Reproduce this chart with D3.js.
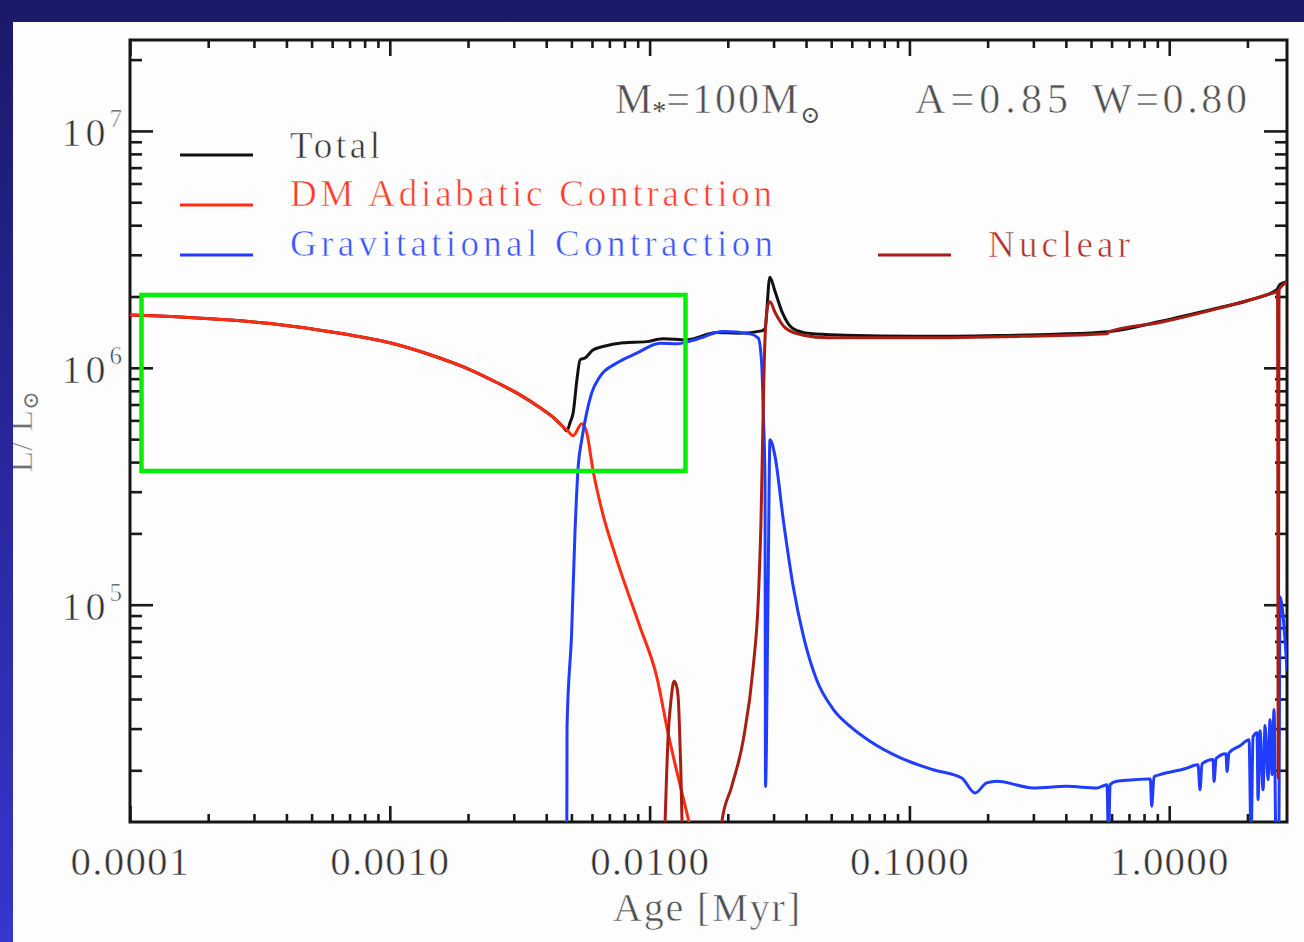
<!DOCTYPE html>
<html>
<head>
<meta charset="utf-8">
<script src="https://cdn.jsdelivr.net/npm/d3@7"></script>
<style>
  html, body { margin: 0; padding: 0; background: #1c1a6e; }
  svg { display: block; }
  svg text { stroke: #fdfdfd; stroke-width: 0.6px; paint-order: normal; }
  svg text tspan.sym { stroke: none; }
</style>
</head>
<body>
<script>
// ages in Myr, luminosities in L_sun
var totalAge = [1.00e-4, 1.56e-4, 2.43e-4, 3.78e-4, 5.89e-4, 1.00e-3, 1.43e-3, 2.04e-3, 2.59e-3, 3.17e-3,
  3.79e-3, 4.32e-3, 4.64e-3, 4.80e-3, 4.95e-3, 5.08e-3, 5.25e-3, 5.40e-3, 5.64e-3, 6.05e-3,
  6.62e-3, 7.90e-3, 9.75e-3, 1.126e-2, 1.39e-2, 1.813e-2, 2.229e-2, 2.699e-2, 2.78e-2, 2.902e-2,
  3.04e-2, 3.24e-2, 3.55e-2, 4.15e-2, 5.67e-2, 0.1055, 0.1965, 0.366, 0.583, 0.93,
  1.483, 2.025, 2.595, 2.67, 2.841];
var totalL = [1.67e6, 1.64e6, 1.59e6, 1.52e6, 1.42e6, 1.275e6, 1.135e6, 9.81e5, 8.65e5, 7.69e5,
  6.78e5, 6.09e5, 5.64e5, 5.42e5, 5.9e5, 6.46e5, 8.9e5, 1.08e6, 1.10e6, 1.19e6,
  1.23e6, 1.275e6, 1.29e6, 1.326e6, 1.313e6, 1.409e6, 1.40e6, 1.432e6, 1.461e6, 2.41e6,
  2.10e6, 1.713e6, 1.469e6, 1.395e6, 1.373e6, 1.358e6, 1.367e6, 1.386e6, 1.42e6, 1.573e6,
  1.772e6, 1.929e6, 2.138e6, 2.249e6, 2.311e6];

var dmAge = [1.00e-4, 1.56e-4, 2.43e-4, 3.78e-4, 5.89e-4, 1.00e-3, 1.43e-3, 2.04e-3, 2.59e-3, 3.17e-3,
  3.79e-3, 4.32e-3, 4.64e-3, 4.80e-3, 5.08e-3, 5.48e-3, 5.73e-3, 6.05e-3, 6.54e-3, 7.47e-3,
  9.18e-3, 1.065e-2, 1.177e-2, 1.41e-2, 1.47e-2];
var dmL = [1.67e6, 1.64e6, 1.59e6, 1.52e6, 1.42e6, 1.275e6, 1.135e6, 9.81e5, 8.65e5, 7.69e5,
  6.78e5, 6.09e5, 5.64e5, 5.47e5, 5.17e5, 5.81e5, 5.32e5, 3.71e5, 2.52e5, 1.55e5,
  8.07e4, 4.97e4, 2.88e4, 1.24e4, 1.02e4];

var gravAge = [4.80e-3, 4.81e-3, 5.01e-3, 5.16e-3, 5.31e-3, 5.48e-3, 5.72e-3, 5.98e-3, 6.44e-3, 7.47e-3,
  8.92e-3, 1.096e-2, 1.272e-2, 1.518e-2, 1.921e-2, 2.434e-2, 2.62e-2, 2.699e-2, 2.74e-2, 2.78e-2,
  2.793e-2, 2.855e-2, 2.906e-2, 3.04e-2, 3.27e-2, 3.57e-2, 3.91e-2, 4.39e-2, 5.10e-2, 5.90e-2,
  7.05e-2, 9.20e-2, 0.1236, 0.159, 0.1789, 0.1984, 0.2168, 0.2999, 0.4031, 0.526,
  0.576, 0.584, 0.592, 0.628, 0.831, 0.846, 0.856, 0.874, 0.922, 1.15,
  1.291, 1.314, 1.337, 1.474, 1.488, 1.514, 1.654, 1.669, 1.699, 1.873,
  2.029, 2.065, 2.102, 2.178, 2.197, 2.236, 2.297, 2.338, 2.401, 2.443,
  2.487, 2.532, 2.577, 2.64, 2.67, 2.72, 2.79, 2.841];
var gravL = [1.0e4, 3.05e4, 7.62e4, 2.01e5, 3.83e5, 4.97e5, 6.44e5, 7.82e5, 9.19e5, 1.047e6,
  1.153e6, 1.271e6, 1.263e6, 1.321e6, 1.423e6, 1.391e6, 1.335e6, 1.047e6, 6.44e5, 3.37e5,
  1.71e4, 1.05e5, 4.97e5, 4.22e5, 2.28e5, 1.195e5, 7.35e4, 4.83e4, 3.61e4, 3.07e4,
  2.65e4, 2.26e4, 2.01e4, 1.857e4, 1.605e4, 1.769e4, 1.797e4, 1.685e4, 1.711e4, 1.685e4,
  1.74e4, 1.0e4, 1.74e4, 1.797e4, 1.839e4, 1.84e4, 1.41e4, 1.88e4, 1.918e4, 2.03e4,
  2.11e4, 1.657e4, 2.13e4, 2.22e4, 1.792e4, 2.24e4, 2.35e4, 1.975e4, 2.37e4, 2.54e4,
  2.69e4, 1.0e4, 2.77e4, 2.88e4, 1.503e4, 2.94e4, 1.657e4, 3.09e4, 1.826e4, 3.27e4,
  1.918e4, 3.61e4, 1.0e4, 1.0e4, 1.08e5, 9.8e4, 7.1e4, 5.3e4];

var nuclearAge = [1.141e-2, 1.18e-2, 1.209e-2, 1.241e-2, 1.269e-2, 1.29e-2, 1.315e-2, 1.344e-2, 1.86e-2, 1.894e-2,
  2.07e-2, 2.294e-2, 2.506e-2, 2.62e-2, 2.684e-2, 2.732e-2, 2.78e-2, 2.855e-2, 2.906e-2, 3.04e-2,
  3.34e-2, 3.90e-2, 4.85e-2, 0.1055, 0.268, 0.576, 0.586, 0.93, 1.483, 2.365,
  2.595, 2.611, 2.628, 2.646, 2.742, 2.841];
var nuclearL = [1.0e4, 2.87e4, 3.97e4, 4.75e4, 4.55e4, 3.97e4, 2.22e4, 1.0e4, 1.0e4, 1.2e4,
  1.71e4, 2.69e4, 5.49e4, 1.05e5, 2.28e5, 6.03e5, 1.313e6, 1.844e6, 1.899e6, 1.713e6,
  1.469e6, 1.373e6, 1.34e6, 1.34e6, 1.358e6, 1.391e6, 1.419e6, 1.556e6, 1.76e6, 2.03e6,
  2.10e6, 2.11e6, 1.86e4, 2.13e6, 2.24e6, 2.30e6];

var xTickValues = [1e-4, 1e-3, 1e-2, 1e-1, 1];
var xTickLabels = ['0.0001', '0.0010', '0.0100', '0.1000', '1.0000'];
var yTickValues = [1e5, 1e6, 1e7];
var yTickExps = ['5', '6', '7'];
var legendNames = ['Total', 'DM Adiabatic Contraction', 'Gravitational Contraction', 'Nuclear'];
var legendColors = ['#111111', '#ff2b12', '#1f3cff', '#a81d14'];

var W = 1304, H = 942;
var pLeft = 130, pTop = 40, pRight = 1287, pBottom = 822;
var font = "'Liberation Serif', 'DejaVu Serif', serif";

var x = d3.scaleLog().domain([1e-4, 2.84]).range([pLeft, pRight]);
var y = d3.scaleLog().domain([1.21e4, 2.42e7]).range([pBottom, pTop]);

function isDecade(v) {
  var l = Math.log10(v);
  return Math.abs(l - Math.round(l)) < 1e-9;
}
var xMinor = x.ticks().filter(function(v) { return !isDecade(v); });
var yMinor = y.ticks().filter(function(v) { return !isDecade(v); });

var svg = d3.select('body').append('svg')
    .attr('width', W)
    .attr('height', H);

var defs = svg.append('defs');
var grad = defs.append('linearGradient')
    .attr('id', 'bg')
    .attr('x1', 0).attr('y1', 0).attr('x2', 0).attr('y2', 1);
grad.append('stop').attr('offset', '0%').attr('stop-color', '#1b196a');
grad.append('stop').attr('offset', '100%').attr('stop-color', '#3736cf');

defs.append('clipPath').attr('id', 'plotclip')
  .append('rect')
    .attr('x', pLeft).attr('y', pTop)
    .attr('width', pRight - pLeft).attr('height', pBottom - pTop);
defs.append('clipPath').attr('id', 'panelclip')
  .append('rect')
    .attr('x', 13).attr('y', 22)
    .attr('width', W).attr('height', H);

svg.append('rect')
    .attr('width', W).attr('height', H)
    .attr('fill', 'url(#bg)');
svg.append('rect')
    .attr('x', 13).attr('y', 22)
    .attr('width', W - 13).attr('height', H - 22)
    .attr('fill', '#fdfdfd');

function styleTicks(g) {
  g.select('.domain').remove();
  g.selectAll('line')
      .attr('stroke', '#1a1a1a')
      .attr('stroke-width', 2.6);
}

// bottom axis: major + minor
var bottomAxis = svg.append('g')
    .attr('transform', 'translate(0,' + pBottom + ')')
    .call(d3.axisBottom(x)
      .tickValues(xTickValues)
      .tickSize(-16)
      .tickFormat(function(d, i) { return xTickLabels[i]; }))
    .call(styleTicks);
bottomAxis.selectAll('text')
    .attr('y', 53)
    .attr('dy', 0)
    .attr('fill', '#333')
    .attr('font-family', font)
    .attr('font-size', 41)
    .attr('letter-spacing', 1.2);

svg.append('g')
    .attr('transform', 'translate(0,' + pBottom + ')')
    .call(d3.axisBottom(x).tickValues(xMinor).tickSize(-8).tickFormat(''))
    .call(styleTicks);

// top axis
svg.append('g')
    .attr('transform', 'translate(0,' + pTop + ')')
    .call(d3.axisTop(x).tickValues(xTickValues).tickSize(-16).tickFormat(''))
    .call(styleTicks);
svg.append('g')
    .attr('transform', 'translate(0,' + pTop + ')')
    .call(d3.axisTop(x).tickValues(xMinor).tickSize(-8).tickFormat(''))
    .call(styleTicks);

// left axis
var leftAxis = svg.append('g')
    .attr('transform', 'translate(' + pLeft + ',0)')
    .call(d3.axisLeft(y).tickValues(yTickValues).tickSize(-23).tickFormat(''))
    .call(styleTicks);
leftAxis.selectAll('.tick text').remove();
leftAxis.selectAll('.tick').each(function(d, i) {
  var t = d3.select(this).append('text')
      .attr('x', -8)
      .attr('y', 15)
      .attr('text-anchor', 'end')
      .attr('fill', '#333')
      .attr('font-family', font);
  t.append('tspan')
      .attr('font-size', 40)
      .attr('letter-spacing', 4)
      .text('10');
  t.append('tspan')
      .attr('font-size', 25)
      .attr('dy', -19)
      .text(yTickExps[i]);
});
svg.append('g')
    .attr('transform', 'translate(' + pLeft + ',0)')
    .call(d3.axisLeft(y).tickValues(yMinor).tickSize(-12).tickFormat(''))
    .call(styleTicks);

// right axis
svg.append('g')
    .attr('transform', 'translate(' + pRight + ',0)')
    .call(d3.axisRight(y).tickValues(yTickValues).tickSize(-23).tickFormat(''))
    .call(styleTicks);
svg.append('g')
    .attr('transform', 'translate(' + pRight + ',0)')
    .call(d3.axisRight(y).tickValues(yMinor).tickSize(-12).tickFormat(''))
    .call(styleTicks);

// frame
svg.append('rect')
    .attr('x', pLeft).attr('y', pTop)
    .attr('width', pRight - pLeft).attr('height', pBottom - pTop)
    .attr('fill', 'none')
    .attr('stroke', '#161616')
    .attr('stroke-width', 3);

// curves
var line = d3.line()
    .x(function(d) { return x(d[0]); })
    .y(function(d) { return y(d[1]); })
    .curve(d3.curveMonotoneX);

function zip(a, b) { return a.map(function(v, i) { return [v, b[i]]; }); }

var series = [
  zip(totalAge, totalL),
  zip(dmAge, dmL),
  zip(gravAge, gravL),
  zip(nuclearAge, nuclearL)
];

svg.append('g')
    .attr('clip-path', 'url(#plotclip)')
  .selectAll('path')
  .data(series)
  .enter().append('path')
    .attr('d', line)
    .attr('fill', 'none')
    .attr('stroke', function(d, i) { return legendColors[i]; })
    .attr('stroke-width', 3)
    .attr('stroke-linejoin', 'round');

// legend
var legendPos = [
  {lx: 180, ly: 155, tx: 290, ty: 158, len: 90, fill: '#333'},
  {lx: 180, ly: 205, tx: 290, ty: 206, len: 482, fill: '#ff3a2a'},
  {lx: 180, ly: 255, tx: 290, ty: 256, len: 483, fill: '#3552ff'},
  {lx: 878, ly: 255, tx: 988, ty: 257, len: 142, fill: '#b03028'}
];
var legend = svg.append('g')
  .selectAll('g')
  .data(legendNames)
  .enter().append('g');
legend.append('line')
    .attr('x1', function(d, i) { return legendPos[i].lx; })
    .attr('x2', function(d, i) { return legendPos[i].lx + 73; })
    .attr('y1', function(d, i) { return legendPos[i].ly; })
    .attr('y2', function(d, i) { return legendPos[i].ly; })
    .attr('stroke', function(d, i) { return legendColors[i]; })
    .attr('stroke-width', 3);
legend.append('text')
    .attr('x', function(d, i) { return legendPos[i].tx; })
    .attr('y', function(d, i) { return legendPos[i].ty; })
    .attr('textLength', function(d, i) { return legendPos[i].len; })
    .attr('lengthAdjust', 'spacing')
    .attr('font-family', font)
    .attr('font-size', 37)
    .attr('fill', function(d, i) { return legendPos[i].fill; })
    .text(function(d) { return d; });

// annotations
var ann = svg.append('text')
    .attr('x', 615)
    .attr('y', 113)
    .attr('font-family', font)
    .attr('font-size', 42)
    .attr('fill', '#505050');
ann.append('tspan').text('M');
ann.append('tspan').attr('class', 'sym').attr('font-size', 28).attr('dy', 7).text('*');
ann.append('tspan').attr('dy', -7).attr('letter-spacing', 2).text('=100M');
ann.append('tspan').attr('class', 'sym').attr('font-size', 24).attr('dy', 10).text('⊙');

svg.append('text')
    .attr('x', 915).attr('y', 113)
    .attr('textLength', 153).attr('lengthAdjust', 'spacing')
    .attr('font-family', font).attr('font-size', 42)
    .attr('fill', '#505050')
    .text('A=0.85');
svg.append('text')
    .attr('x', 1092).attr('y', 113)
    .attr('textLength', 155).attr('lengthAdjust', 'spacing')
    .attr('font-family', font).attr('font-size', 42)
    .attr('fill', '#505050')
    .text('W=0.80');

// axis titles
svg.append('text')
    .attr('x', 613).attr('y', 921)
    .attr('textLength', 187).attr('lengthAdjust', 'spacing')
    .attr('font-family', font).attr('font-size', 40)
    .attr('fill', '#505050')
    .text('Age [Myr]');

var yt = svg.append('g')
    .attr('clip-path', 'url(#panelclip)')
  .append('text')
    .attr('transform', 'translate(32,432) rotate(-90)')
    .attr('text-anchor', 'middle')
    .attr('font-family', font).attr('font-size', 36)
    .attr('fill', '#707070');
yt.append('tspan').text('L/ L');
yt.append('tspan').attr('class', 'sym').attr('font-size', 22).attr('dy', 6).text('⊙');

// highlight box
svg.append('rect')
    .attr('x', 141.5).attr('y', 295)
    .attr('width', 544).attr('height', 176)
    .attr('fill', 'none')
    .attr('stroke', '#00f000')
    .attr('stroke-width', 4.5);
</script>
</body>
</html>
